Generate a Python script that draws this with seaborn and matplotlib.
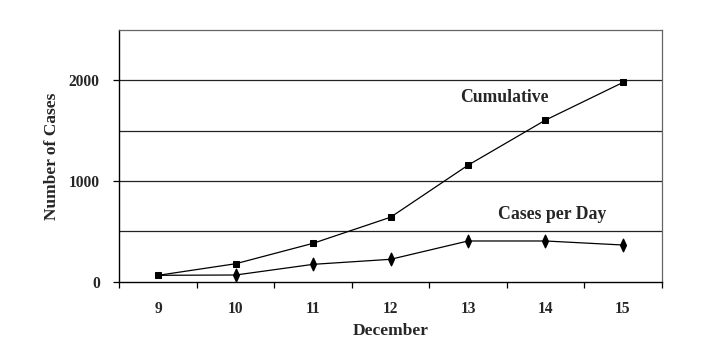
import matplotlib
matplotlib.use("Agg")
import matplotlib.pyplot as plt
from matplotlib.path import Path
from matplotlib.ticker import FixedLocator, NullFormatter
import seaborn as sns
import pandas as pd

days = [9, 10, 11, 12, 13, 14, 15]
cumulative = [64, 179, 382, 641, 1158, 1606, 1980]
per_day = [64, 67, 173, 223, 405, 405, 365]
y_ticks = [0, 1000, 2000]
x_label = "December"
y_label = "Number of Cases"

sns.set_style("white")
plt.rcParams["font.family"] = ["Liberation Serif", "DejaVu Serif"]

df = pd.DataFrame({"day": days, "Cumulative": cumulative, "Cases per Day": per_day})

fig = plt.figure(figsize=(7.26, 3.5), dpi=100)
ax = fig.add_axes([0.1646, 0.195, 0.7468, 0.719])

diamond = Path([(0, 1), (0.46, 0), (0, -1), (-0.46, 0), (0, 1)],
               [Path.MOVETO, Path.LINETO, Path.LINETO, Path.LINETO, Path.CLOSEPOLY])

for y in [500, 1000, 1500, 2000]:
    ax.axhline(y, color="#222222", lw=0.9, zorder=1)

sns.lineplot(data=df, x="day", y="Cumulative", ax=ax, color="black", lw=0.9,
             marker="s", markersize=4.2, markeredgecolor="black", zorder=3)
sns.lineplot(data=df, x="day", y="Cases per Day", ax=ax, color="black", lw=0.9,
             marker=None, zorder=3)
ax.plot(df["day"][1:], df["Cases per Day"][1:], ls="none", marker=diamond,
        markersize=9, color="black", zorder=4)

ax.set_xlim(8.5, 15.5)
ax.set_ylim(0, 2500)
ax.xaxis.set_major_locator(FixedLocator([8.5 + i for i in range(8)]))
ax.xaxis.set_major_formatter(NullFormatter())
ax.xaxis.set_minor_locator(FixedLocator(days))
ax.set_xticklabels([str(d) for d in days], minor=True)
ax.tick_params(axis="x", which="major", length=4.3, width=0.9, direction="out", bottom=True, color="black")
ax.tick_params(axis="x", which="minor", length=0, labelsize=11.2, pad=14)
ax.set_yticks(y_ticks)
ax.set_yticklabels([str(v) for v in y_ticks])
ax.tick_params(axis="y", length=4.3, width=0.9, direction="out", left=True, labelsize=11.2,
               pad=10, color="black")
for lab in ax.get_xticklabels(minor=True) + ax.get_yticklabels():
    lab.set_fontweight("bold")

ax.set_xlabel(x_label, fontsize=12.5, fontweight="bold", labelpad=4)
ax.set_ylabel(y_label, fontsize=12.5, fontweight="bold", labelpad=6)

for s in ["left", "bottom"]:
    ax.spines[s].set_color("black")
    ax.spines[s].set_linewidth(1.0)
for s in ["top", "right"]:
    ax.spines[s].set_color("#666666")
    ax.spines[s].set_linewidth(0.9)

ax.text(13.47, 1831, "Cumulative", ha="center", va="center", fontsize=12.7, fontweight="bold")
ax.text(14.08, 673, "Cases per Day", ha="center", va="center", fontsize=12.8, fontweight="bold")

fig.savefig("out.png", dpi=100, facecolor="white")
